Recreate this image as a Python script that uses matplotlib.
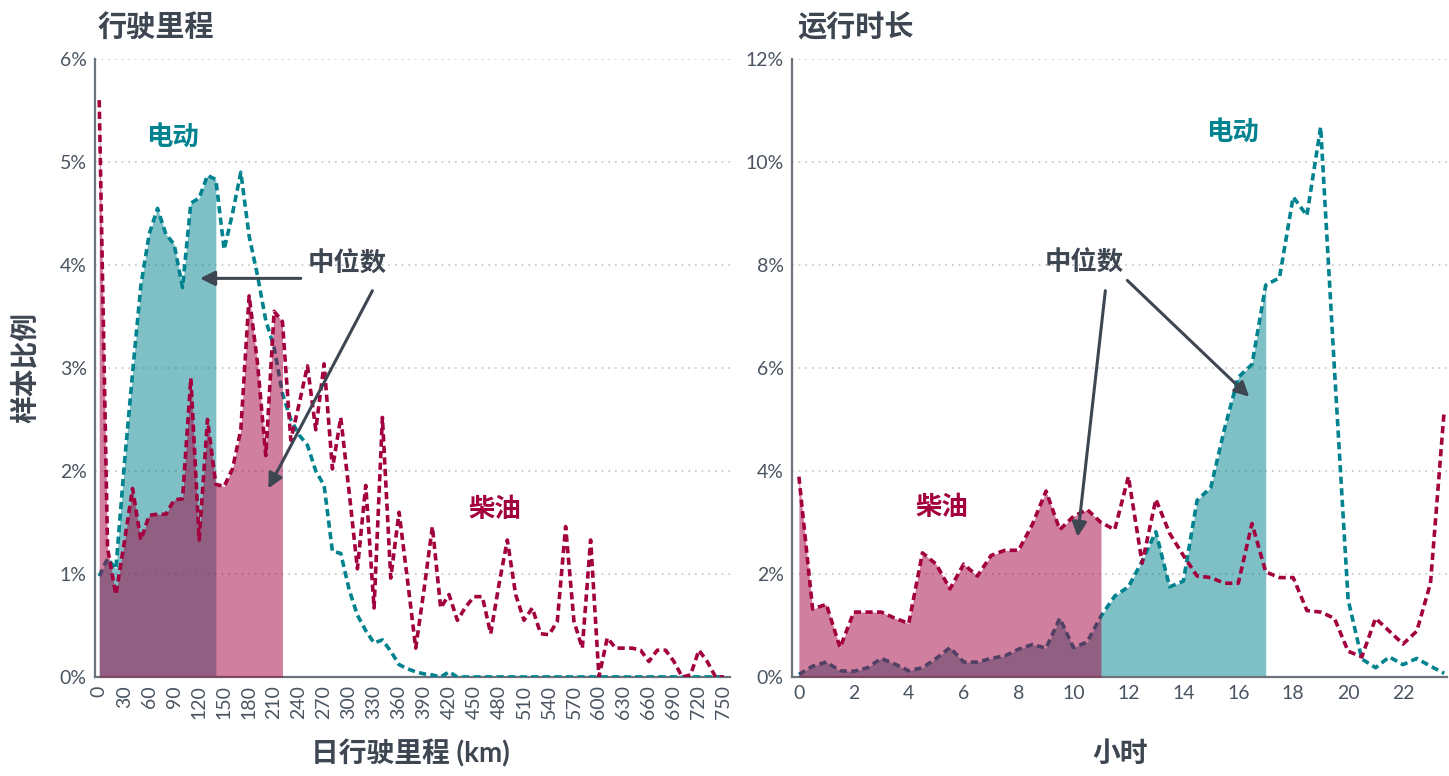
import numpy as np
import matplotlib
matplotlib.use("Agg")
import matplotlib.pyplot as plt
from matplotlib.ticker import FuncFormatter

# daily distance bins (km) and share of samples (%)
km = list(range(0, 760, 10))
ev_km = [0.98, 1.15, 1.05, 2.05, 2.95, 3.8, 4.3, 4.55, 4.3, 4.2,
         3.78, 4.6, 4.65, 4.87, 4.83, 4.15, 4.5, 4.9, 4.28, 3.9,
         3.46, 3.2, 2.75, 2.5, 2.35, 2.25, 2.0, 1.86, 1.22, 1.2,
         0.85, 0.6, 0.45, 0.33, 0.36, 0.25, 0.12, 0.08, 0.05, 0.03,
         0.02, 0.0, 0.05] + [0.0] * 33
diesel_km = [5.6, 1.25, 0.8, 1.3, 1.83, 1.33, 1.57, 1.58, 1.58, 1.72,
             1.73, 2.9, 1.33, 2.5, 1.87, 1.85, 2.02, 2.4, 3.7, 3.05,
             2.15, 3.55, 3.45, 2.3, 2.65, 3.02, 2.4, 3.04, 2.02, 2.52,
             1.8, 1.05, 1.86, 0.67, 2.52, 0.96, 1.6, 0.95, 0.28, 0.85,
             1.46, 0.67, 0.8, 0.55, 0.68, 0.78, 0.78, 0.42, 0.9, 1.33,
             0.8, 0.55, 0.67, 0.42, 0.41, 0.54, 1.46, 0.54, 0.28, 1.33,
             0.0, 0.38, 0.28, 0.28, 0.28, 0.26, 0.15, 0.26, 0.26, 0.15,
             0.0, 0.02, 0.26, 0.15, 0.0, 0.0]
ev_km_median = 140
diesel_km_median = 220

# operating hours (half-hour bins) and share of samples (%)
hours = [h / 2 for h in range(48)]
ev_h = [0.05, 0.21, 0.29, 0.12, 0.11, 0.18, 0.36, 0.25, 0.12, 0.18,
        0.36, 0.57, 0.29, 0.29, 0.36, 0.41, 0.54, 0.63, 0.56, 1.14,
        0.57, 0.68, 1.18, 1.57, 1.75, 2.25, 2.82, 1.75, 1.86, 3.43,
        3.68, 4.82, 5.82, 6.07, 7.61, 7.75, 9.32, 8.96, 10.68, 6.0,
        1.5, 0.35, 0.18, 0.39, 0.24, 0.36, 0.21, 0.07]
diesel_h = [3.89, 1.32, 1.41, 0.57, 1.26, 1.26, 1.26, 1.14, 1.04, 2.41,
            2.19, 1.71, 2.19, 1.96, 2.36, 2.46, 2.46, 2.96, 3.61, 2.86,
            3.12, 3.25, 3.0, 2.86, 3.89, 2.21, 3.45, 2.79, 2.36, 1.96,
            1.93, 1.82, 1.82, 2.98, 2.04, 1.93, 1.93, 1.29, 1.26, 1.14,
            0.5, 0.39, 1.14, 0.89, 0.64, 0.89, 1.82, 5.18]
ev_h_median = 17
diesel_h_median = 11

TEAL = "#00828f"
CRIMSON = "#a3003e"
DARK = "#3d4651"
GRID = "#c4c4c4"
DASH = (0, (2, 1.2))


def draw_panel(ax, x, ev, diesel, ev_med, diesel_med):
    """Fill up to the medians, then dashed lines."""
    x = np.array(x)
    ev = np.array(ev)
    diesel = np.array(diesel)
    ax.fill_between(x, 0, ev, where=x <= ev_med, color=TEAL, alpha=0.5,
                    lw=0, zorder=2)
    ax.plot(x, ev, color=TEAL, lw=2.6, linestyle=DASH, zorder=3)
    ax.fill_between(x, 0, diesel, where=x <= diesel_med, color=CRIMSON,
                    alpha=0.5, lw=0, zorder=4)
    ax.plot(x, diesel, color=CRIMSON, lw=2.6, linestyle=DASH, zorder=5)

    # style axes
    for side in ("top", "right"):
        ax.spines[side].set_visible(False)
    for side in ("left", "bottom"):
        ax.spines[side].set_color("#6b737c")
        ax.spines[side].set_linewidth(1.6)
    ax.yaxis.grid(True, linestyle=(0, (1, 3)), color=GRID, lw=1.2)
    ax.set_axisbelow(True)
    ax.tick_params(length=0, labelsize=14, colors="#4a5561", pad=6)
    ax.yaxis.set_major_formatter(FuncFormatter(lambda v, p: "%d%%" % v))


def arrow(ax, tail, head):
    ax.annotate("", xy=head, xytext=tail, zorder=6,
                arrowprops=dict(arrowstyle="-|>", color=DARK, lw=2.2,
                                mutation_scale=22, shrinkA=0, shrinkB=0))


def main():
    plt.rcParams['font.family'] = ['Lato', 'Noto Sans CJK SC', 'DejaVu Sans']
    fig = plt.figure(figsize=(14.49, 7.76), dpi=100)

    # left: daily distance
    ax1 = fig.add_axes([0.0656, 0.1276, 0.438, 0.7964])
    draw_panel(ax1, km, ev_km, diesel_km, ev_km_median, diesel_km_median)
    ax1.set_xlim(-5, 757)
    ax1.set_ylim(0, 6)
    ax1.set_xticks(range(0, 751, 30))
    ax1.set_xticklabels([str(v) for v in range(0, 751, 30)], rotation=90)
    ax1.set_yticks(range(0, 7))
    ax1.text(88, 5.25, "电动", color=TEAL, fontsize=19, fontweight="bold",
             ha="center", va="center")
    ax1.text(475, 1.63, "柴油", color=CRIMSON, fontsize=19,
             fontweight="bold", ha="center", va="center")
    ax1.text(298, 4.02, "中位数", color=DARK, fontsize=19, fontweight="bold",
             ha="center", va="center", zorder=7)
    arrow(ax1, (242, 3.87), (121, 3.87))
    arrow(ax1, (328, 3.75), (203, 1.83))

    # right: operating hours
    ax2 = fig.add_axes([0.5466, 0.1276, 0.452, 0.7964])
    draw_panel(ax2, hours, ev_h, diesel_h, ev_h_median, diesel_h_median)
    ax2.set_xlim(-0.25, 23.6)
    ax2.set_ylim(0, 12)
    ax2.set_xticks(range(0, 23, 2))
    ax2.set_yticks(range(0, 13, 2))
    ax2.text(15.8, 10.6, "电动", color=TEAL, fontsize=19, fontweight="bold",
             ha="center", va="center")
    ax2.text(5.2, 3.3, "柴油", color=CRIMSON, fontsize=19,
             fontweight="bold", ha="center", va="center")
    ax2.text(10.4, 8.06, "中位数", color=DARK, fontsize=19, fontweight="bold",
             ha="center", va="center", zorder=7)
    arrow(ax2, (11.16, 7.5), (10.15, 2.72))
    arrow(ax2, (11.96, 7.7), (16.4, 5.44))

    # axis labels and panel titles
    fig.text(0.283, 0.029, "日行驶里程 (km)", fontsize=20, fontweight="bold",
             color=DARK, ha="center", va="center")
    fig.text(0.773, 0.029, "小时", fontsize=20, fontweight="bold",
             color=DARK, ha="center", va="center")
    fig.text(0.0173, 0.527, "样本比例", fontsize=20, fontweight="bold",
             color=DARK, ha="center", va="center", rotation=90)
    fig.text(0.0676, 0.965, "行驶里程", fontsize=21, fontweight="bold",
             color=DARK, va="center")
    fig.text(0.55, 0.965, "运行时长", fontsize=21, fontweight="bold",
             color=DARK, va="center")

    fig.savefig("out.png", dpi=100)


if __name__ == "__main__":
    main()
